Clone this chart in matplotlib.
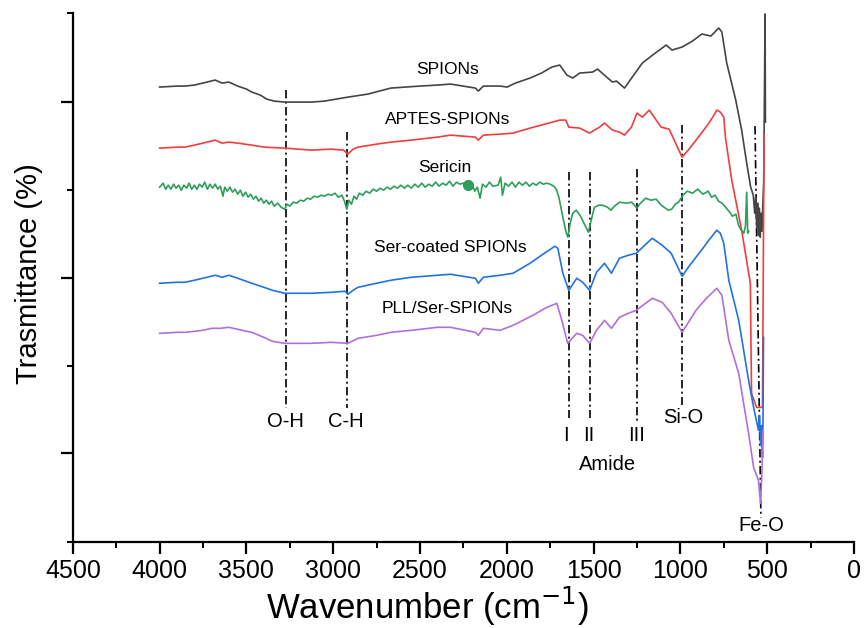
import matplotlib
matplotlib.use('Agg')
import matplotlib.pyplot as plt

plt.rcParams['font.family'] = ['Liberation Sans', 'DejaVu Sans']

# FTIR spectra (wavenumber in cm-1, transmittance in arbitrary offset units)
spions_wn = [4000, 3900, 3853, 3800, 3727, 3680, 3640, 3601, 3550, 3500, 3469, 3420, 3383, 3340,
             3280, 3200, 3126, 3050, 2914, 2800, 2668, 2500, 2399, 2324, 2181, 2164, 2135,
             2038, 1998, 1950, 1866, 1800, 1740, 1695, 1654, 1620, 1580, 1506, 1477, 1425, 1391,
             1368, 1322, 1277, 1219, 1160, 1105, 1082, 1048, 990, 930, 876, 824, 779, 761, 733,
             681, 647, 618, 595, 580, 572, 566, 560, 555, 550, 545, 540, 535, 530, 525, 520,
             512, 510]
spions_t = [426, 427, 427, 428, 431, 433, 430, 431, 427, 424, 421, 418, 414, 412,
            411, 411, 411, 412, 416, 419, 425, 427, 428, 429, 425, 422, 427,
            427, 426, 430, 435, 440, 446, 448, 438, 435, 440, 441, 444, 436, 431,
            432, 425, 436, 450, 458, 465, 468, 463, 466, 472, 479, 477, 485, 481, 450,
            413, 383, 350, 326, 318, 300, 316, 285, 310, 278, 305, 276, 300, 282, 310, 330,
            499, 391]

aptes_wn = [4000, 3900, 3853, 3800, 3727, 3680, 3640, 3601, 3550, 3469, 3400, 3280, 3200, 3126,
            3011, 2940, 2916, 2885, 2857, 2750, 2668, 2550, 2399, 2324, 2181, 2164, 2135, 2038,
            1964, 1866, 1780, 1695, 1660, 1643, 1580, 1523, 1466, 1437, 1391, 1351, 1322, 1282,
            1250, 1219, 1179, 1111, 1065, 990, 950, 910, 870, 836, 810, 790, 770, 750, 740, 704,
            647, 597, 590, 561, 527, 518]
aptes_t = [365, 366, 366, 368, 371, 373, 370, 371, 370, 368, 366, 365, 364, 363,
           364, 363, 359, 364, 366, 369, 371, 373, 376, 378, 376, 373, 378, 379,
           380, 385, 389, 393, 393, 386, 385, 380, 386, 390, 383, 381, 378, 386,
           400, 396, 403, 386, 384, 356, 364, 373, 382, 390, 397, 403, 401, 396, 375, 333,
           283, 230, 120, 106, 106, 378]

sericin_wn = [4000, 3980, 3965, 3950, 3935, 3920, 3905, 3890, 3875, 3860, 3845, 3830, 3815, 3800,
              3785, 3770, 3755, 3740, 3725, 3710, 3695, 3680, 3665, 3650, 3635, 3625, 3610, 3595,
              3580, 3565, 3550, 3535, 3520, 3505, 3490, 3475, 3460, 3445, 3430, 3415, 3400, 3385,
              3370, 3355, 3340, 3320, 3300, 3280, 3265, 3250, 3230, 3210, 3190, 3170, 3150, 3130,
              3110, 3090, 3070, 3050, 3030, 3010, 2990, 2970, 2950, 2935, 2922, 2910, 2895, 2880,
              2865, 2850, 2830, 2810, 2790, 2770, 2750, 2730, 2710, 2690, 2670, 2650, 2630, 2610,
              2590, 2570, 2550, 2530, 2510, 2490, 2470, 2450, 2430, 2410, 2390, 2370, 2350, 2330,
              2310, 2290, 2270, 2250, 2221, 2200, 2185, 2170, 2154, 2140, 2120, 2100, 2080, 2050,
              2035, 2025, 2010, 1990, 1970, 1950, 1930, 1910, 1890, 1870, 1850, 1830, 1810, 1790,
              1770, 1750, 1730, 1715, 1700, 1677, 1660, 1648, 1635, 1620, 1600, 1575, 1555, 1530,
              1515, 1495, 1470, 1450, 1420, 1400, 1380, 1350, 1310, 1280, 1260, 1250, 1235, 1200,
              1170, 1140, 1110, 1070, 1050, 1030, 1010, 985, 960, 930, 900, 870, 840, 820, 800,
              780, 760, 740, 720, 700, 680, 665, 650, 635, 625, 618, 612, 606]
sericin_t = [326, 330, 324, 328, 324, 329, 325, 328, 323, 328, 325, 330, 324, 328,
             324, 329, 326, 331, 324, 329, 325, 329, 324, 327, 317, 326, 322, 326,
             321, 324, 319, 323, 317, 321, 316, 319, 314, 317, 312, 315, 310, 313,
             309, 312, 307, 310, 306, 304, 309, 307, 311, 310, 313, 312, 315, 314,
             317, 316, 318, 317, 319, 318, 320, 316, 318, 312, 304, 313, 309, 317,
             314, 320, 318, 322, 320, 324, 322, 325, 323, 326, 324, 327, 325, 328,
             325, 328, 325, 329, 326, 330, 326, 329, 327, 331, 327, 330, 328, 332,
             327, 331, 329, 330, 328, 330, 322, 326, 315, 329, 326, 331, 327, 328,
             336, 318, 330, 327, 331, 326, 331, 328, 331, 327, 330, 328, 331, 329,
             330, 329, 327, 324, 316, 296, 282, 276, 290, 300, 303, 297, 290, 281,
             292, 306, 308, 308, 306, 303, 307, 311, 310, 311, 307, 305, 309, 315,
             313, 314, 308, 303, 304, 309, 311, 318, 322, 320, 324, 319, 322, 316, 318,
             312, 310, 306, 302, 297, 299, 288, 283, 280, 287, 321, 280, 282]
dot_wn = [2221]
dot_t = [328]

sercoat_wn = [4000, 3900, 3853, 3800, 3727, 3680, 3640, 3601, 3550, 3469, 3400, 3350, 3280, 3200,
              3126, 3011, 2930, 2916, 2885, 2857, 2750, 2668, 2550, 2399, 2324, 2181, 2164, 2135,
              2038, 1964, 1866, 1800, 1723, 1706, 1677, 1643, 1597, 1563, 1523, 1483, 1437, 1397,
              1351, 1300, 1254, 1162, 1105, 1053, 990, 950, 910, 870, 836, 790, 770, 750, 721, 664,
              607, 578, 550, 545, 538, 533, 527, 524, 521]
sercoat_t = [230, 231, 231, 233, 236, 238, 236, 238, 235, 230, 226, 223, 220, 220,
             220, 221, 222, 219, 223, 226, 230, 233, 236, 238, 239, 235, 230, 236,
             238, 240, 250, 258, 267, 265, 240, 223, 235, 231, 223, 241, 250, 240,
             255, 258, 260, 275, 268, 260, 237, 247, 256, 265, 273, 283, 280, 270, 233, 193,
             133, 106, 83, 98, 68, 88, 56, 93, 176]

pll_wn = [4000, 3900, 3853, 3750, 3700, 3650, 3601, 3550, 3469, 3400, 3350, 3280, 3200, 3126,
          3011, 2916, 2857, 2750, 2668, 2550, 2399, 2324, 2181, 2164, 2135, 2038, 1964, 1849,
          1780, 1712, 1683, 1649, 1597, 1563, 1523, 1483, 1437, 1397, 1351, 1300, 1254, 1162,
          1105, 1053, 990, 950, 910, 850, 790, 761, 721, 664, 607, 578, 550, 538, 530, 524]
pll_t = [180, 181, 181, 183, 185, 185, 186, 184, 181, 176, 172, 170, 170, 170,
         171, 170, 175, 178, 181, 183, 186, 186, 181, 178, 185, 183, 188, 198,
         205, 210, 193, 170, 180, 178, 170, 183, 193, 185, 196, 200, 203, 215,
         211, 200, 181, 192, 203, 215, 225, 218, 173, 140, 80, 46, 33, 10, 43, 83]

series_names = ['SPIONs', 'APTES-SPIONs', 'Sericin', 'Ser-coated SPIONs', 'PLL/Ser-SPIONs']
series_colors = ['#454545', '#F03E3E', '#2E9E5B', '#2372DE', '#B06FE0']
name_wn = [2339, 2339, 2356, 2327, 2344]
name_t = [444, 394, 346, 266, 205]

# assignment markers: wavenumber, top, bottom
mark_wn = [3270, 2920, 1643, 1523, 1250, 990]
mark_top = [423, 381, 341, 341, 344, 388]
mark_bot = [105, 105, 95, 95, 91, 108]
feo_wn = [570, 536]
feo_t = [387, -4]

band_labels = ['O-H', 'C-H', 'I', 'II', 'III', 'Si-O', 'Amide', 'Fe-O']
band_wn = [3277, 2926, 1659, 1527, 1250, 985, 1417, 536]
band_t = [92, 92, 78, 78, 78, 96, 49, -12]

fig = plt.figure(figsize=(8.66, 6.28), dpi=100)
ax = fig.add_axes([0.0841, 0.1377, 0.902, 0.8416])

dash = (0, (5, 2, 1.2, 2))
for w, t0, t1 in zip(mark_wn, mark_top, mark_bot):
    ax.plot([w, w], [t0, t1], color='black', lw=1.2, linestyle=dash, zorder=1)
ax.plot(feo_wn, feo_t, color='black', lw=1.2, linestyle=dash, zorder=1)

spectra = [(spions_wn, spions_t), (aptes_wn, aptes_t), (sericin_wn, sericin_t),
           (sercoat_wn, sercoat_t), (pll_wn, pll_t)]
for (wn, t), c in zip(spectra, series_colors):
    ax.plot(wn, t, color=c, lw=1.2, zorder=2)
ax.plot(dot_wn, dot_t, 'o', color=series_colors[2], markersize=7, zorder=3)

for name, w, t in zip(series_names, name_wn, name_t):
    ax.text(w, t, name, fontsize=12.5, ha='center', va='center', color='black')

for lab, w, t in zip(band_labels, band_wn, band_t):
    ax.text(w, t, lab, fontsize=14.5, ha='center', va='center', color='black')

ax.set_xlim(4500, 0)
ax.set_ylim(-28, 500)
ax.set_xticks(range(4500, -1, -500))
ax.set_xticks(range(4250, 0, -500), minor=True)
ax.set_yticks([60, 235, 411])
ax.set_yticks([-28, 147, 323, 500], minor=True)
ax.set_yticklabels([])
ax.spines['top'].set_visible(False)
ax.spines['right'].set_visible(False)
for s in ['left', 'bottom']:
    ax.spines[s].set_linewidth(1.6)
ax.tick_params(which='major', direction='out', length=8.5, width=1.6, labelsize=18, pad=4)
ax.tick_params(which='minor', direction='out', length=4.5, width=1.4)

fig.text(0.494, 1 - 606 / 628, 'Wavenumber (cm$^{-1}$)', fontsize=25, ha='center', va='center')
fig.text(0.033, 0.565, 'Trasmittance (%)', fontsize=21, rotation=90, ha='center', va='center')

fig.savefig('out.png', dpi=100)
